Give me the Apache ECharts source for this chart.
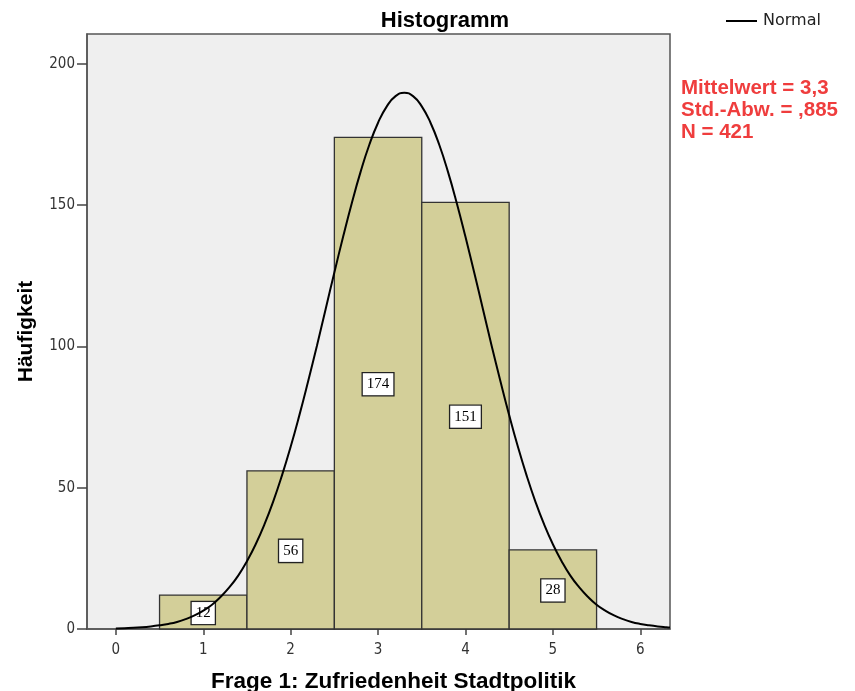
<!DOCTYPE html>
<html>
<head>
<meta charset="utf-8">
<script src="https://cdn.jsdelivr.net/npm/echarts@6/dist/echarts.min.js"></script>
<style>html,body{margin:0;padding:0;background:#fff;}#c{width:855px;height:691px;}</style>
</head>
<body>
<div id="c"></div>
<script>
// Histogram bins (center values) and counts
const binCenters = [1, 2, 3, 4, 5];
const counts = [12, 56, 174, 151, 28];
// Normal curve, values (every 0.1 on the x axis)
const curveX = [0, 0.1, 0.2, 0.3, 0.4, 0.5, 0.6, 0.7, 0.8, 0.9,
                1.0, 1.1, 1.2, 1.3, 1.4, 1.5, 1.6, 1.7, 1.8, 1.9,
                2.0, 2.1, 2.2, 2.3, 2.4, 2.5, 2.6, 2.7, 2.8, 2.9,
                3.0, 3.1, 3.2, 3.3, 3.4, 3.5, 3.6, 3.7, 3.8, 3.9,
                4.0, 4.1, 4.2, 4.3, 4.4, 4.5, 4.6, 4.7, 4.8, 4.9,
                5.0, 5.1, 5.2, 5.3, 5.4, 5.5, 5.6, 5.7, 5.8, 5.9,
                6.0, 6.1, 6.2, 6.3, 6.34];
const curveY = [0.2, 0.3, 0.4, 0.6, 0.9, 1.3, 1.8, 2.5, 3.5, 4.8,
                6.5, 8.6, 11.4, 14.8, 18.9, 24.0, 30.0, 37.0, 45.1, 54.3,
                64.5, 75.7, 87.7, 100.2, 113.2, 126.2, 138.8, 150.8, 161.8, 171.4,
                179.2, 185.0, 188.6, 189.8, 188.6, 185.0, 179.2, 171.4, 161.8, 150.8,
                138.8, 126.2, 113.2, 100.2, 87.7, 75.7, 64.5, 54.3, 45.1, 37.0,
                30.0, 24.0, 18.9, 14.8, 11.4, 8.6, 6.5, 4.8, 3.5, 2.5,
                1.8, 1.3, 0.9, 0.6, 0.5];
const xTicks = [0, 1, 2, 3, 4, 5, 6];
const yTicks = [0, 50, 100, 150, 200];
const statsLines = ['Mittelwert = 3,3', 'Std.-Abw. = ,885', 'N = 421'];

const chart = echarts.init(document.getElementById('c'), null, {renderer: 'canvas'});
const barData = binCenters.map((c, i) => [c, counts[i]]);
const lineData = curveX.map((x, i) => [x, curveY[i]]);

chart.setOption({
  animation: false,
  backgroundColor: '#ffffff',
  title: {
    text: 'Histogramm',
    left: 440, top: 5, textAlign: 'center',
    textStyle: {fontFamily: 'Liberation Sans, Arial, sans-serif', fontSize: 22, fontWeight: 'bold', color: '#000'}
  },
  legend: {
    left: 726, top: 13, padding: 0,
    itemWidth: 31, itemHeight: 2, itemGap: 6,
    data: [{name: 'Normal', icon: 'rect', itemStyle: {color: '#000'}}],
    textStyle: {fontFamily: 'DejaVu Sans, sans-serif', fontSize: 16, color: '#222', padding: [0, 0, 0, 1]}
  },
  graphic: [{
    type: 'text', left: 681, top: 77,
    style: {
      text: statsLines.join('\n'),
      fill: '#ef3d3d',
      font: 'bold 20.5px "Liberation Sans", Arial, sans-serif',
      lineHeight: 22
    }
  }],
  grid: {
    left: 87, right: 185, top: 34, bottom: 62,
    outerBoundsMode: 'none',
    containLabel: false,
    show: true, backgroundColor: '#efefef', borderColor: '#555', borderWidth: 1.5
  },
  xAxis: {
    type: 'value', min: -0.33, max: 6.34,
    name: 'Frage 1: Zufriedenheit Stadtpolitik',
    nameLocation: 'middle', nameGap: 41,
    nameTextStyle: {fontFamily: 'Liberation Sans, Arial, sans-serif', fontSize: 22.5, fontWeight: 'bold', color: '#000', padding: [0, 0, 0, 30], verticalAlign: 'top'},
    splitLine: {show: false},
    axisLine: {show: true, onZero: false, lineStyle: {color: '#555', width: 1.5}},
    axisTick: {show: true, customValues: xTicks, length: 6, inside: false, lineStyle: {color: '#444', width: 1.5}},
    axisLabel: {customValues: xTicks, margin: 14, fontFamily: 'DejaVu Sans Condensed, DejaVu Sans, sans-serif', fontSize: 15, color: '#333'}
  },
  yAxis: {
    type: 'value', min: 0, max: 210.6,
    name: 'Häufigkeit',
    nameLocation: 'middle', nameGap: 50, nameRotate: 90,
    nameTextStyle: {fontFamily: 'Liberation Sans, Arial, sans-serif', fontSize: 21, fontWeight: 'bold', color: '#000'},
    splitLine: {show: false},
    axisLine: {show: true, onZero: false, lineStyle: {color: '#555', width: 1.5}},
    axisTick: {show: true, customValues: yTicks, length: 10, inside: false, lineStyle: {color: '#444', width: 1.5}},
    axisLabel: {customValues: yTicks, margin: 12, fontFamily: 'DejaVu Sans Condensed, DejaVu Sans, sans-serif', fontSize: 15, color: '#333'}
  },
  series: [{
    type: 'custom',
    name: 'Häufigkeit',
    data: barData,
    z: 2,
    renderItem: function (params, api) {
      const x = api.value(0), y = api.value(1);
      const p0 = api.coord([x - 0.5, y]);
      const p1 = api.coord([x + 0.5, 0]);
      const pm = api.coord([x, y / 2]);
      return {
        type: 'group',
        children: [{
          type: 'rect',
          shape: {x: p0[0], y: p0[1], width: p1[0] - p0[0], height: p1[1] - p0[1]},
          style: {fill: '#d3cf99', stroke: '#333', lineWidth: 1.3}
        }, {
          type: 'text',
          x: pm[0], y: pm[1] + 1,
          z2: 5,
          style: {
            text: String(y),
            align: 'center', verticalAlign: 'middle',
            font: '15px "Liberation Serif", "Times New Roman", serif',
            fill: '#000',
            backgroundColor: '#fff', borderColor: '#222', borderWidth: 1.3,
            padding: [4, 4, 3, 4]
          }
        }]
      };
    }
  }, {
    type: 'line',
    name: 'Normal',
    data: lineData,
    smooth: true,
    showSymbol: false,
    z: 5,
    lineStyle: {color: '#000', width: 2},
    itemStyle: {color: '#000'}
  }]
});
</script>
</body>
</html>
